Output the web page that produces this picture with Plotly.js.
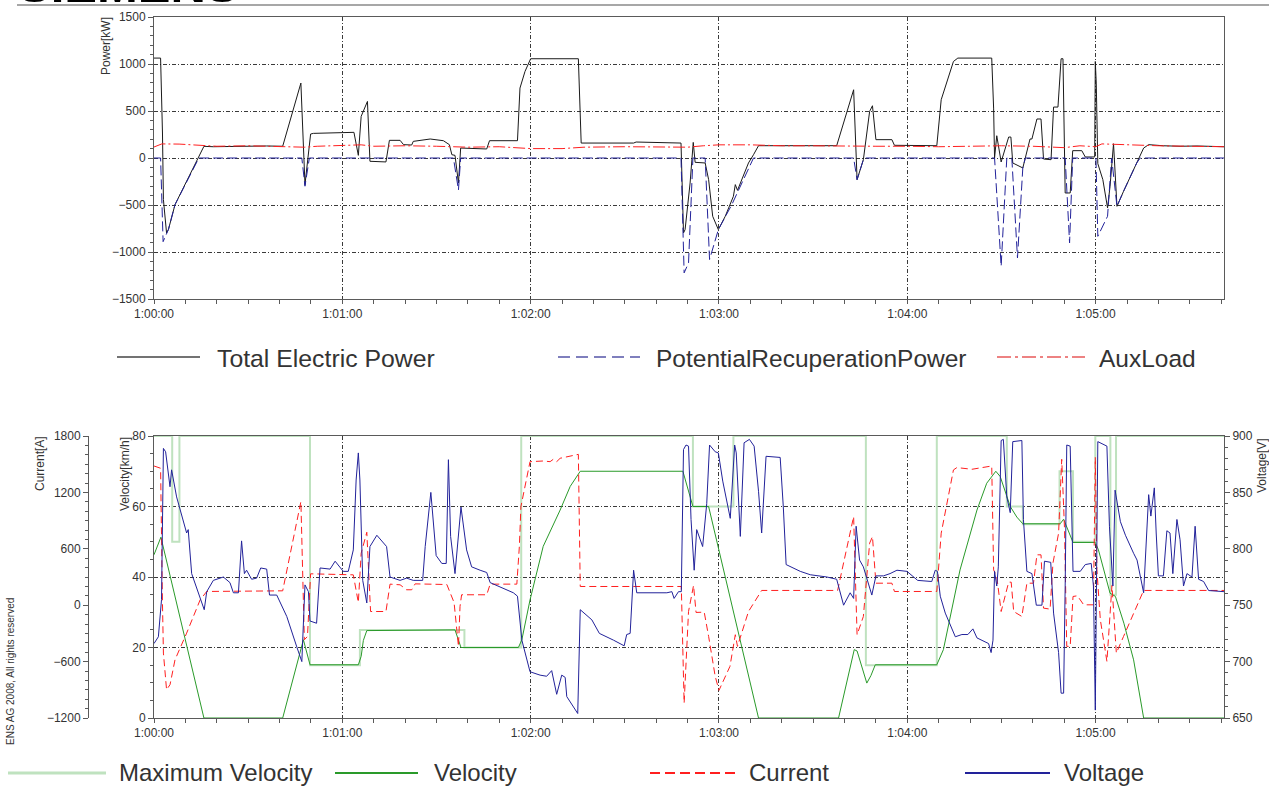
<!DOCTYPE html>
<html>
<head>
<meta charset="utf-8">
<script src="https://cdn.plot.ly/plotly-3.0.1.min.js"></script>
<style>
  html, body { margin: 0; padding: 0; background: #fff; }
  #chart { width: 1269px; height: 787px; }
</style>
</head>
<body>
<div id="chart"></div>
<script>
// ---------------- DATA (time in seconds after 1:00:00) ----------------
// Top chart: Power [kW]
const tTotal = [0.0, 2.1, 2.7, 3.0, 4.0, 4.6, 6.7, 15.9, 18.9, 25.3, 35.9, 41.0, 46.8, 48.1, 49.9, 50.8, 63.7, 65.1, 66.0, 68.0, 68.8, 73.9, 75.0,
  78.4, 79.5, 82.1, 82.6, 88.0, 92.2, 94.1, 94.9, 95.9, 97.0, 97.7, 106.0, 106.9, 115.8, 116.6, 118.2, 120.0, 135.2, 136.1, 152.8, 153.6, 167.9,
  168.7, 169.2, 170.8, 171.8, 172.4, 175.6, 176.7, 178.0, 179.8, 182.0, 184.6, 185.2, 185.9, 189.4, 191.0, 192.6, 217.5,
  222.9, 224.0, 226.0, 228.0, 228.9, 230.0, 235.1, 235.9, 249.4, 250.8, 254.7, 256.1, 266.9, 267.5, 267.8, 268.5, 269.9, 272.3, 273.0,
  273.6, 276.8, 279.1, 279.7, 281.3, 282.6, 283.4, 285.8, 286.6, 288.0, 289.0, 289.6, 290.3, 291.9, 292.7, 295.6, 296.7, 299.7, 299.9,
  300.2, 300.7, 302.3, 303.8, 304.6, 305.7, 306.8, 308.9, 313.1, 315.3, 316.9, 321.6, 326.9, 332.3, 340.9];
const pTotal = [1063, 1063, 266, -443, -797, -760, -496, 124, 120, 125, 128, 125, 797, -283, 255, 262, 273, 28, 443, 602, -35, -42, 188,
  188, 142, 138, 177, 202, 184, 142, 35, 28, -266, 106, 96, 184, 184, 744, 921, 1056, 1056, 159, 159, 170, 159,
  -797, -762, -266, 166, -46, -53, -230, -620, -762, -620, -407, -283, -344, -53, 35, 131, 131,
  726, -230, -18, 496, 556, 195, 195, 135, 131, 620, 1027, 1063, 1063, 531, 0, 237, -42, 223, 223,
  -53, -106, 202, 202, 415, 415, -11, -18, 542, 542, 1056, 1056, -372, -372, 78, 78, 11, 11, 1027,
  797, -60, -230, -531, -300, 152, -514, -354, -53, 106, 142, 130, 125, 128, 120];

const tRecup = [0.0, 2.1, 2.9, 4.0, 4.6, 6.7, 14.3, 47.1, 48.1, 49.5, 95.4, 97.0, 97.7, 167.9, 168.9, 170.3, 171.7, 175.6, 177.0, 179.8, 184.1, 191.0,
  222.9, 224.0, 226.0, 226.6, 267.8, 269.9, 271.7, 273.3, 275.1, 276.8, 277.6, 290.3, 291.7, 292.7, 300.1, 300.7, 303.8, 305.1, 306.8, 308.9, 313.1, 314.2, 340.9];
const pRecup = [0, 0, -890, -800, -760, -496, 0, 0, -300, 0, 0, -340, 0, 0, -1222, -1116, 0, 0, -1080, -762, -496, 0,
  0, -230, -18, 0, 0, -1151, 0, 0, -1063, -106, 0, 0, -903, 0, 0, -833, -620, 0, -514, -354, -53, 0, 0];

const tAux = [0, 2.5, 8, 15, 20, 30, 40, 48, 52, 60, 66, 70, 80, 90, 100, 110, 120, 130, 137, 150, 160, 170, 175, 180, 190, 200, 210, 220,
  230, 240, 250, 260, 270, 280, 290, 295, 300, 302, 310, 320, 330, 340.9];
const pAux = [117, 150, 148, 130, 125, 130, 125, 115, 125, 135, 140, 125, 130, 125, 115, 120, 100, 100, 115, 120, 120, 115, 130, 140, 140, 130, 130, 125,
  125, 125, 120, 125, 130, 125, 110, 130, 120, 150, 140, 130, 125, 120];

// Bottom chart
const tVmax = [0, 5.8, 8.1, 49.7, 65.6, 98.9, 117.0, 171.7, 184.6, 226.8, 249.4, 271.7, 276.8, 288.5, 292.8, 299.9, 304.7, 306.5, 340.9];
const vMax  = [80, 50, 80, 15, 25, 20, 80, 60, 80, 15, 80, 60, 55, 70, 50, 80, 35, 80, 80];

const tVel = [0.0, 2.2, 15.9, 41.0, 47.6, 49.7, 65.1, 66.0, 66.7, 67.8, 95.9, 97.8, 116.1, 117.2, 119.8, 124.0, 129.4, 132.6, 135.8, 168.5, 171.7,
  176.7, 192.6, 218.1, 223.1, 224.0, 227.1, 228.4, 229.8, 249.4, 251.5, 256.8, 262.2, 265.3, 268.2, 269.6, 272.8, 274.9, 276.8, 288.7, 289.8,
  292.8, 299.9, 300.9, 304.6, 306.3, 309.0, 312.1, 315.3, 340.9];
const vel = [46.3, 51.3, 0, 0, 22.2, 15.1, 15.1, 17.5, 22, 24.8, 25, 20, 20, 22.2, 33.5, 48.7, 59, 65.7, 70, 70, 60,
  60, 0, 0, 19.4, 19, 9.9, 12, 15.1, 15.1, 19.4, 42, 59, 66.6, 70, 68.5, 60, 57, 55.1, 55.1, 56.4,
  49.8, 49.8, 47.7, 35.4, 34.5, 26.9, 16.5, 0, 0];

const tCur = [0.0, 2.1, 2.7, 3.0, 4.0, 5.1, 6.7, 10.4, 14.7, 16.8, 41.0, 46.8, 47.9, 48.9, 49.9, 63.5, 65.1, 66.0, 67.8, 69.0, 73.9, 75.2,
  78.4, 80.5, 82.1, 83.2, 93.3, 94.3, 95.6, 97.0, 97.5, 98.0, 106.0, 107.1, 115.6, 116.4, 116.9, 119.8, 124.0, 126.2, 127.2, 128.3, 129.4,
  135.2, 135.8, 168.0, 168.9, 170.3, 171.9, 172.7, 175.3, 176.7, 178.8, 180.0, 183.5, 185.2, 185.9, 189.4, 193.6, 217.8,
  222.9, 224.0, 226.0, 228.0, 228.9, 230.0, 235.1, 235.9, 249.4, 250.8, 254.7, 255.8, 260.6, 266.9, 267.5, 268.5, 269.9, 272.3, 273.1,
  273.9, 276.5, 278.1, 280.2, 281.3, 282.6, 283.4, 285.5, 286.4, 288.2, 289.2, 290.1, 290.8, 291.9, 292.8, 294.2, 296.2, 299.3, 299.9,
  300.4, 301.5, 303.6, 305.2, 306.6, 308.9, 312.1, 315.3, 340.9];
const cur = [1481, 1457, 22, -509, -899, -846, -580, -297, 57, 146, 153, 1102, -368, -332, 334, 323, 29, 553, 776, -67, -67, 224,
  217, 164, 164, 227, 220, 128, 29, -438, -13, 111, 111, 224, 224, 624, 1049, 1527, 1534, 1527, 1552, 1527, 1563,
  1605, 199, 199, -1041, -67, 210, -77, -74, -332, -757, -906, -651, -314, -438, -67, 157, 157,
  943, -314, -120, 660, 730, 234, 234, 146, 146, 766, 1439, 1464, 1446, 1481, 376, 305, -67, 245, 245,
  -67, -120, 234, 234, 536, 536, -31, -42, 447, 766, 1552, 801, -438, -438, 93, 100, 4, 4, 1573,
  376, -155, -598, 210, -509, -332, -84, 157, 157];

const tVolt = [0.0, 1.4, 2.4, 3.0, 3.7, 4.6, 5.1, 5.6, 6.2, 7.2, 10.4, 10.9, 12.0, 14.7, 16.0, 16.8, 18.9, 22.1, 24.2, 25.3, 26.9, 27.9, 28.8,
  29.5, 31.1, 32.7, 34.0, 35.9, 36.8, 39.1, 42.3, 45.5, 47.1, 48.1, 49.2, 49.7, 51.8, 52.9, 55.0, 56.1, 57.7, 60.3, 61.9, 63.5, 64.4,
  65.1, 65.6, 66.5, 67.8, 68.8, 71.0, 74.1, 75.2, 78.4,
  80.5, 82.6, 85.6, 86.4, 88.2, 89.9, 91.7, 93.1, 93.8, 94.5, 95.9, 97.8, 99.6, 101.2, 103.9, 106.0, 107.1, 110.3, 114.5, 115.8,
  117.2, 119.8, 123.0, 125.1, 126.7, 128.3, 129.9, 131.0, 131.5, 135.0, 135.8, 139.5, 141.9, 146.4, 149.8, 150.6, 151.7, 152.8, 153.8,
  163.4, 165.0, 165.7, 167.1, 168.0, 168.7, 169.5, 170.3, 171.1, 172.1, 172.9, 174.8, 176.1, 177.0, 178.8, 179.8, 181.2, 183.6, 185.0,
  185.5, 186.8, 188.0, 189.7, 191.2, 192.6, 193.6, 195.0, 199.5, 200.5, 201.4, 205.9, 209.1, 214.4, 217.5, 219.7, 221.8,
  222.9, 223.7, 224.8, 226.0, 228.7, 230.0, 232.4, 234.5, 236.7, 239.9, 243.3, 247.8, 248.9, 249.6, 250.5, 252.1, 255.3, 257.4, 259.3,
  260.9, 262.2, 264.3, 265.9, 266.7, 267.3, 267.8, 268.5, 269.0, 269.9, 270.6, 271.7, 272.8, 273.6, 276.5, 277.0, 278.1, 279.7, 281.1,
  282.9, 283.7, 285.7, 286.6, 288.2, 289.0, 289.8, 290.3, 290.8, 291.9, 292.8, 295.1, 296.7, 298.6, 299.3, 299.9, 300.2, 300.7, 303.6,
  304.4, 305.5, 306.2, 307.9, 309.5, 312.1, 313.2, 315.3, 316.9, 317.6, 318.7, 319.3, 320.0, 321.6, 322.7, 323.7, 324.6, 325.9, 326.9,
  328.0, 329.1, 330.7, 331.7, 332.8, 334.4, 336.0, 340.9];
const volt = [716, 722, 755, 889, 886, 868, 855, 870, 860, 846, 814, 817, 778, 755, 746, 762, 772, 775, 770, 761, 761, 807, 778,
  781, 773, 774, 783, 782, 759, 759, 740, 713, 700, 768, 762, 736, 734, 783, 782, 782, 789, 780, 780, 799, 861,
  885, 861, 772, 752, 802, 812, 802, 775, 772,
  774, 772, 772, 802, 850, 794, 787, 787, 879, 811, 778, 837, 799, 784, 781, 779, 770, 766, 761, 758,
  719, 691, 688, 687, 692, 671, 688, 686, 669, 654, 746, 737, 725, 719, 714, 724, 725, 781, 761,
  761, 762, 756, 762, 762, 888, 892, 891, 826, 781, 817, 802, 840, 892, 886, 885, 860, 827, 892,
  885, 811, 894, 897, 891, 851, 814, 882, 881, 837, 786, 780, 777, 775, 773, 750, 761,
  756, 820, 790, 784, 759, 776, 776, 778, 781, 780, 772, 771, 781, 780, 758, 743, 722, 724, 724,
  729, 721, 718, 716, 708, 719, 780, 767, 784, 896, 897, 846, 832, 895, 896, 826, 780, 778, 750,
  750, 789, 788, 743, 708, 672, 672, 767, 892, 891, 780, 780, 786, 787, 767, 657, 761, 895, 891,
  820, 767, 852, 824, 812, 796, 790, 761, 848, 829, 854, 814, 776, 776, 816, 814, 778, 826, 808,
  767, 778, 775, 820, 773, 771, 763, 762];

const xTickEnd = 340.9;

// ---------------- helpers ----------------
function pad(n, w) { let s = String(n); while (s.length < w) s = '0' + s; return s; }
function toDate(sec) {
  const ms = Math.round(sec * 1000);
  const m = Math.floor(ms / 60000);
  const rem = ms - m * 60000;
  const s = Math.floor(rem / 1000);
  const milli = rem % 1000;
  return '2000-01-01 01:' + pad(m, 2) + ':' + pad(s, 2) + '.' + pad(milli, 3);
}
const D = arr => arr.map(toDate);

// page-pixel -> paper fraction
const ML = 60, MR = 45, MT = 17, MB = 69, W = 1269, H = 787;
const PW = W - ML - MR, PH = H - MT - MB;
const px = x => (x - ML) / PW;
const py = y => (H - MB - y) / PH;

const FONT = 'Liberation Sans, Arial, sans-serif';
const TXT = '#333333';
const GRID = '#3a3a3a';
const GDASH = '4px,2px,1px,2px';
const AXL = '#5a5a5a';

const xDomain = [px(154), 1];
const xCommon = {
  type: 'date', domain: xDomain,
  range: [toDate(0), toDate(xTickEnd)],
  tick0: toDate(0), dtick: 60000, tickformat: '%-H:%M:%S',
  ticks: 'outside', ticklen: 4, tickcolor: AXL,
  minor: { dtick: 10000, ticklen: 4, tickcolor: AXL, showgrid: false },
  showgrid: true, gridcolor: GRID, griddash: GDASH, gridwidth: 1,
  showline: true, linecolor: AXL, linewidth: 1, mirror: true,
  zeroline: false,
  tickfont: { family: FONT, size: 12, color: TXT },
};

const BLACK = '#1a1a1a', BLUE = '#22229a', RED = '#ff1f1f', LGREEN = '#bfe2bf', GREEN = '#2a9a2a';

const traces = [
  { name: 'Total Electric Power', x: D(tTotal), y: pTotal, xaxis: 'x', yaxis: 'y', mode: 'lines',
    line: { color: BLACK, width: 1 } },
  { name: 'PotentialRecuperationPower', x: D(tRecup), y: pRecup, xaxis: 'x', yaxis: 'y', mode: 'lines',
    line: { color: BLUE, width: 1, dash: '10px,4px' } },
  { name: 'AuxLoad', x: D(tAux), y: pAux, xaxis: 'x', yaxis: 'y', mode: 'lines',
    line: { color: RED, width: 1, dash: '12px,3px,2px,3px' } },

  { name: 'Maximum Velocity', x: D(tVmax), y: vMax, xaxis: 'x2', yaxis: 'y2', mode: 'lines',
    line: { color: LGREEN, width: 2, shape: 'hv' } },
  { name: 'Velocity', x: D(tVel), y: vel, xaxis: 'x2', yaxis: 'y2', mode: 'lines',
    line: { color: GREEN, width: 1 } },
  { name: 'Current', x: D(tCur), y: cur, xaxis: 'x2', yaxis: 'y3', mode: 'lines',
    line: { color: RED, width: 1, dash: '7px,4px' } },
  { name: 'Voltage', x: D(tVolt), y: volt, xaxis: 'x2', yaxis: 'y4', mode: 'lines',
    line: { color: BLUE, width: 1 } },
];

const yTick = { ticks: 'outside', ticklen: 5, tickcolor: AXL, showline: true, linecolor: AXL, linewidth: 1,
  zeroline: false, tickfont: { family: FONT, size: 12, color: TXT } };

const layout = {
  width: W, height: H,
  margin: { l: ML, r: MR, t: MT, b: MB, pad: 0 },
  paper_bgcolor: '#ffffff', plot_bgcolor: '#ffffff',
  showlegend: false,
  font: { family: FONT, size: 12, color: TXT },
  xaxis: Object.assign({}, xCommon, { anchor: 'y' }),
  yaxis: Object.assign({}, yTick, {
    domain: [py(299), 1], anchor: 'x', range: [-1500, 1500], dtick: 500, mirror: true,
    minor: { dtick: 100, ticklen: 3, tickcolor: AXL, showgrid: false },
    showgrid: true, gridcolor: GRID, griddash: GDASH, gridwidth: 1,
  }),
  xaxis2: Object.assign({}, xCommon, { anchor: 'y2' }),
  yaxis2: Object.assign({}, yTick, {
    domain: [0, py(436)], anchor: 'x2', range: [0, 80], dtick: 20,
    minor: { dtick: 5, ticklen: 3, tickcolor: AXL, showgrid: false },
    showgrid: true, gridcolor: GRID, griddash: GDASH, gridwidth: 1,
  }),
  yaxis3: Object.assign({}, yTick, {
    overlaying: 'y2', anchor: 'free', position: px(88), side: 'left',
    range: [-1200, 1800], dtick: 600,
    minor: { dtick: 100, ticklen: 3, tickcolor: AXL, showgrid: false },
    showgrid: false,
  }),
  yaxis4: Object.assign({}, yTick, {
    overlaying: 'y2', anchor: 'x2', side: 'right',
    range: [650, 900], dtick: 50,
    minor: { dtick: 10, ticklen: 3, tickcolor: AXL, showgrid: false },
    showgrid: false,
  }),
  shapes: [],
  annotations: [],
};

// axis titles (placed at the top of each axis as in the reference)
function vtext(text, x, y, size) {
  layout.annotations.push({ text, xref: 'paper', yref: 'paper', x: px(x), y: py(y), textangle: -90,
    showarrow: false, xanchor: 'center', yanchor: 'middle', font: { family: FONT, size, color: TXT } });
}
vtext('Power[kW]', 106, 46, 12);
vtext('Current[A]', 40, 464, 12);
vtext('Velocity[km/h]', 125, 474, 12);
vtext('Voltage[V]', 1262, 466, 12);
vtext('ENS AG 2008, All rights reserved', 10, 672, 10);

// logo remnant at the very top (only its lower edge shows, as in the reference)
layout.annotations.push({ text: '<b>SIEMENS</b>', xref: 'paper', yref: 'paper', x: px(16), y: py(14),
  xanchor: 'left', yanchor: 'bottom', showarrow: false, font: { family: FONT, size: 49, color: '#000' } });
layout.shapes.push({ type: 'line', xref: 'paper', yref: 'paper', x0: px(17), x1: px(1269), y0: py(5), y1: py(5),
  line: { color: '#8a8a8a', width: 1.5 } });

// manual legends
function legendItem(x0, x1, xText, y, yText, label, color, width, dash, size) {
  layout.shapes.push({ type: 'line', xref: 'paper', yref: 'paper', x0: px(x0), x1: px(x1), y0: py(y), y1: py(y),
    line: { color, width, dash } });
  layout.annotations.push({ text: label, xref: 'paper', yref: 'paper', x: px(xText), y: py(yText),
    xanchor: 'left', yanchor: 'middle', showarrow: false, borderpad: 0,
    font: { family: FONT, size, color: TXT } });
}
legendItem(117, 200, 216, 357, 358, 'Total Electric Power', '#444', 1.5, 'solid', 24.8);
legendItem(558, 640, 655, 357, 358, 'PotentialRecuperationPower', '#5555a8', 1.5, '12px,6px', 24.5);
legendItem(997, 1085, 1098, 357, 358, 'AuxLoad', '#e85a5a', 1.5, '14px,4px,3px,4px', 24.5);
legendItem(8, 106, 118, 773, 772, 'Maximum Velocity', LGREEN, 3, 'solid', 24);
legendItem(335, 418, 433, 773, 772, 'Velocity', GREEN, 2, 'solid', 24);
legendItem(650, 735, 748, 773, 772, 'Current', RED, 2, '10px,5px', 24);
legendItem(965, 1050, 1063, 773, 772, 'Voltage', BLUE, 2, 'solid', 24);

Plotly.newPlot('chart', traces, layout, { staticPlot: true, displayModeBar: false });
</script>
</body>
</html>
